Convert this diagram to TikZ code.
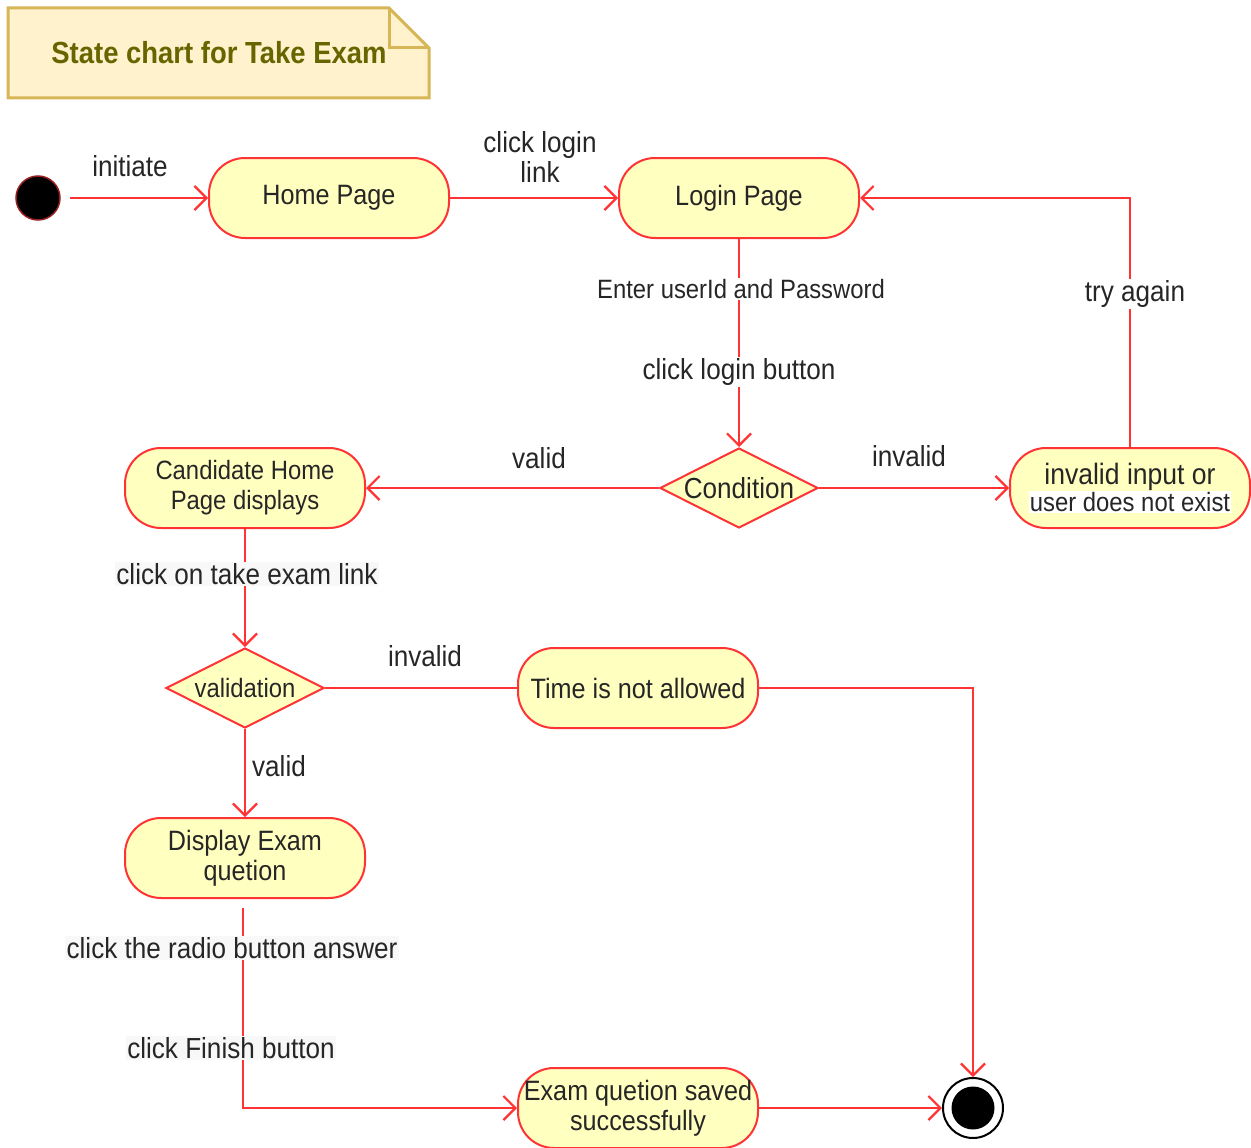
\documentclass[tikz,border=0pt]{standalone}
\usepackage{fontspec}
\setmainfont[FakeStretch=0.9]{Liberation Sans}
\usetikzlibrary{arrows.meta,shapes.geometric}
\definecolor{nodefill}{HTML}{FFFFC0}
\definecolor{edgered}{HTML}{FF3333}
\definecolor{notefill}{HTML}{FFF2CC}
\definecolor{notedraw}{HTML}{D6B656}
\definecolor{titlecol}{HTML}{666600}
\definecolor{lblgray}{HTML}{F8F8F8}
\newcommand{\fsnode}{\fontsize{28}{30}\selectfont}
\newcommand{\fslabel}{\fontsize{29}{30}\selectfont}
\newcommand{\fssmall}{\fontsize{26.5}{30}\selectfont}
\newcommand{\fstitle}{\fontsize{30.5}{32}\selectfont\bfseries}
\setlength{\fboxsep}{1pt}
\tikzset{
  statebox/.style={draw=edgered, fill=nodefill, line width=2pt, rounded corners=36pt,
    minimum width=240pt, minimum height=80pt, inner sep=0pt, align=center,
    font=\fsnode, text=black!85},
  decision/.style={diamond, draw=edgered, fill=nodefill, line width=2pt,
    minimum width=158pt, minimum height=80pt, inner sep=0pt, text=black!85},
  trans/.style={draw=edgered, line width=2.2pt, -{Straight Barb[length=12pt,width=24pt]}},
  plaintrans/.style={draw=edgered, line width=2.2pt},
  lbl/.style={font=\fslabel, text=black!85, inner sep=1.5pt, align=center},
  lblw/.style={lbl, fill=white},
  lblg/.style={lbl, fill=lblgray},
  initst/.style={circle, fill=black, draw=edgered!60!black, line width=1.5pt, minimum size=44pt, inner sep=0pt},
  finalst/.style={circle, draw=black, line width=2pt, fill=white, minimum size=60pt, inner sep=0pt},
}
\begin{document}
\begin{tikzpicture}[x=1pt,y=-1pt]
\useasboundingbox (0,0) rectangle (1251,1148);

% note
\draw[draw=notedraw, fill=notefill, line width=3pt, line join=miter]
  (8,8) -- (389,8) -- (429,48) -- (429,98) -- (8,98) -- cycle;
\draw[draw=notedraw, line width=3pt] (389,8) -- (389,48) -- (429,48);
\node[font=\fstitle, text=titlecol] (title) at (219,53) {State chart for Take Exam};

% states
\node[initst] (init) at (38,198) {};
\node[statebox] (home) at (329,198) {Home Page};
\node[statebox] (login) at (739,198) {Login Page};
\node[decision, font=\fslabel] (cond) at (739,488) {\makebox[0pt]{Condition}};
\node[statebox] (invin) at (1130,488) {{\fontsize{29.5}{30}\selectfont invalid input or}\\[-3pt]{\fssmall\colorbox{white}{user does not exist}}};
\node[statebox, font=\fssmall] (cand) at (245,488) {Candidate Home\\Page displays};
\node[decision, font=\fssmall] (valid) at (245,688) {\makebox[0pt]{validation}};
\node[statebox] (time) at (638,688) {Time is not allowed};
\node[statebox] (disp) at (245,858) {Display Exam\\quetion};
\node[statebox] (saved) at (638,1108) {Exam quetion saved\\successfully};
\node[finalst] (final) at (973,1108) {};
\fill[black] (final.center) circle (21.5pt);

% transitions
\draw[trans, shorten <=9pt] (init) -- (home);
\draw[trans] (home) -- (login);
\draw[trans] (login) -- (cond);
\draw[trans] (cond) -- (cand);
\draw[trans] (cond) -- (invin);
\draw[trans] (invin.north) |- (login.east);
\draw[trans] (cand) -- (valid);
\draw[plaintrans] (valid) -- (time);
\draw[trans] (time.east) -| (final.north);
\draw[trans] (valid) -- (disp);
\draw[trans] ([xshift=-2pt,yshift=-9pt]disp.south) |- (saved.west);
\draw[trans] (saved) -- (final);

% labels
\node[lbl] (linit) at (130,166) {initiate};
\node[lbl] (lclick) at (540,157) {click login\\link};
\node[lblw, font=\fssmall] (lenter) at (741,289) {Enter userId and Password};
\node[lblw] (lbutton) at (739,372) {click login button};
\node[lbl] (lvalid1) at (539,458) {valid};
\node[lbl] (linv1) at (909,456) {invalid};
\node[lblw] (ltry) at (1135,294) {try again};
\node[lblg] (ltake) at (247,574) {click on take exam link};
\node[lbl] (linv2) at (425,656) {invalid};
\node[lbl] (lvalid2) at (279,766) {valid};
\node[lblg] (lradio) at (232,948) {click the radio button answer};
\node[lblg] (lfinish) at (231,1048) {click Finish button};
\end{tikzpicture}
\end{document}
